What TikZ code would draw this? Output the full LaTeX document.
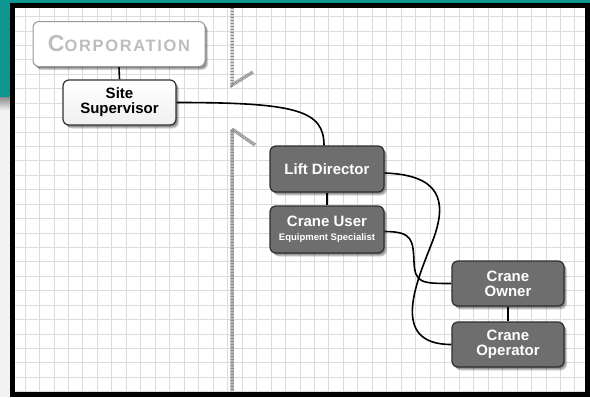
\documentclass[tikz,border=0pt]{standalone}
\usepackage{fontspec}
\setmainfont{Liberation Sans}
\newfontfamily\corpfont[LetterSpace=10]{Liberation Sans}
\usetikzlibrary{shadows}
\pgfdeclarelayer{gridlayer}
\pgfdeclarelayer{linklayer}
\pgfsetlayers{gridlayer,linklayer,main}
\definecolor{tealbg}{HTML}{0E9690}
\definecolor{nodegray}{HTML}{6E6E6E}
\definecolor{nodeedge}{HTML}{2E2E2E}
\definecolor{gridc}{HTML}{DCDCDC}
\definecolor{hatchc}{HTML}{8C8C8C}
\definecolor{corptext}{HTML}{BDBDBD}
\tikzset{
  softshadow/.style={
    general shadow={fill=black, opacity=0.16, shadow xshift=3pt, shadow yshift=-3.5pt},
    general shadow={fill=black, opacity=0.18, shadow xshift=2.2pt, shadow yshift=-2.6pt},
    general shadow={fill=black, opacity=0.22, shadow xshift=1.4pt, shadow yshift=-1.6pt}},
  box/.style={rounded corners=6pt, minimum height=45pt, inner sep=0pt, align=center,
    font=\bfseries\fontsize{15}{15}\selectfont, line width=1.2pt, softshadow},
  darkbox/.style={box, fill=nodegray, draw=nodeedge, text=white},
  lightbox/.style={box, top color=white, bottom color=black!6, draw=black!80},
  corpbox/.style={box, fill=white, draw=black!40, line width=1pt},
  link/.style={line width=1.6pt, black},
  gridline/.style={draw=gridc, line width=0.8pt},
  hatch/.style={draw=hatchc, line width=3.5pt, dash pattern=on 0.9pt off 0.6pt}
}
\begin{document}
\begin{tikzpicture}[x=1pt,y=-1pt]
\useasboundingbox (0,0) rectangle (590,397);
\begin{pgfonlayer}{gridlayer}
  % outer background
  \fill[black!5] (0,0) rectangle (590,397);
  \fill[tealbg] (0,0) rectangle (590,8);
  \fill[tealbg] (0,0) rectangle (12,97);
  \shade[top color=black!45, bottom color=black!6] (0,97) rectangle (12,110);
  % frame
  \fill[black] (10,3) rectangle (590,397);
  \fill[white] (15,8) rectangle (585,391);
  % grid
  \begin{scope}
    \clip (15,8) rectangle (585,391);
    \foreach \i in {0,...,38} { \draw[gridline] ({25+\i*14.47},8) -- ({25+\i*14.47},391); }
    \foreach \j in {0,...,26} { \draw[gridline] (15,{16.5+\j*14.43}) -- (585,{16.5+\j*14.43}); }
  \end{scope}
  % hatched divider
  \draw[hatch] (232,8) -- (232,85) -- (253,72);
  \draw[hatch] (255,145) -- (232,129) -- (232,391);
\end{pgfonlayer}

\node[corpbox, minimum width=172pt, text=corptext] (corp) at (119,44)
  {\corpfont\bfseries{\fontsize{23}{23}\selectfont C}{\fontsize{16.5}{16.5}\selectfont ORPORATION}};
\node[lightbox, minimum width=113pt, text=black] (ss) at (119.5,102.5) {Site\\Supervisor};
\node[darkbox, minimum width=114pt, minimum height=46pt] (ld) at (327,169) {Lift Director};
\node[darkbox, minimum width=114pt, minimum height=47pt] (cu) at (327,229.5)
  {Crane User\\[-1pt]{\fontsize{9.5}{10}\selectfont Equipment Specialist}};
\node[darkbox, minimum width=112pt] (ow) at (508,283.5) {Crane\\Owner};
\node[darkbox, minimum width=112pt] (op) at (508,344.5) {Crane\\Operator};

\coordinate (m1) at (433,240);
\coordinate (m2) at (414,262);

\begin{pgfonlayer}{linklayer}
  \draw[link] (corp.south) -- (ss.north);
  \draw[link] (ld.south) -- (cu.north);
  \draw[link] (ow.south) -- (op.north);
  \draw[link] (ss.east) .. controls +(120,0) and +(0,-35) .. ([xshift=-3pt]ld.north);
  \draw[link] ([yshift=-4pt]ld.east) .. controls +(55,2) and +(15,-40) .. (m1)
              .. controls +(-14,37) and +(-65,0) .. (op.west);
  \draw[link] ([yshift=-2pt]cu.east) .. controls +(28,0) and +(-1,-22) .. (m2)
              .. controls +(1,21) and +(-30,0) .. (ow.west);
\end{pgfonlayer}
\end{tikzpicture}
\end{document}
